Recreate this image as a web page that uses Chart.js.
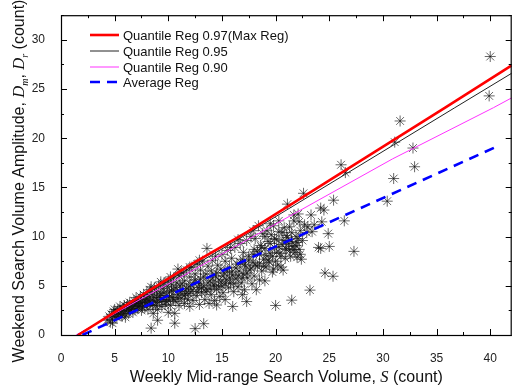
<!DOCTYPE html>
<html>
<head>
<meta charset="utf-8">
<script src="https://cdn.jsdelivr.net/npm/chart.js@4/dist/chart.umd.min.js"></script>
<style>
  html, body { margin: 0; padding: 0; background: #fff; }
</style>
</head>
<body>
<canvas id="scatter" width="518" height="389"></canvas>
<script>
// axis ticks
const xTicks = [0, 5, 10, 15, 20, 25, 30, 35, 40];
const yTicks = [0, 5, 10, 15, 20, 25, 30];

// regression lines (S, D)
const maxRegS = [1.6, 12, 17.4, 35.8, 42];
const maxRegD = [0, 7.1, 10.5, 23.1, 27.4];
const q95S = [1.5, 17.4, 36.7, 42];
const q95D = [0, 10.3, 23.1, 26.6];
const q90S = [1.4, 12, 17.4, 30.9, 40.3, 42];
const q90D = [0, 6.4, 9.7, 17.9, 23.1, 24.1];
const avgS = [2.0, 18, 40.7];
const avgD = [0, 8.0, 19.2];

const lineLabels = ['Quantile Reg 0.97(Max Reg)', 'Quantile Reg 0.95', 'Quantile Reg 0.90', 'Average Reg'];

// observed points [S, D]
const searchPoints = [
  [4.3,1.5],[4.5,1.9],[4.6,1.3],[4.7,2.1],[4.8,1.6],[4.8,1.2],[4.9,2.4],[5.0,1.9],[5.0,2.6],
  [5.1,2.2],[5.2,1.8],[5.3,2.6],[5.4,2.1],[5.5,2.9],[5.6,2.4],[5.7,1.9],[5.8,2.7],[5.9,3.0],[5.9,2.2],[6.0,1.8],
  [6.1,2.5],[6.2,3.1],[6.3,2.8],[6.3,2.2],[6.4,3.3],[6.5,2.6],[6.6,3.0],[6.7,2.3],[6.8,3.5],[6.8,2.9],[6.9,2.6],[7.0,3.2],[7.0,3.8],
  [7.1,2.7],[7.2,3.4],[7.3,3.0],[7.4,3.9],[7.5,2.5],[7.5,3.6],[7.6,3.2],[7.7,4.1],[7.8,2.9],[7.9,3.7],[8.0,4.3],[8.0,3.3],
  [8.1,2.6],[8.2,3.9],[8.3,4.6],[8.3,3.1],[8.4,0.7],[8.5,4.1],[8.6,3.5],[8.6,2.2],[8.7,4.8],[8.8,3.0],[8.9,4.4],[9.0,3.8],[9.0,1.5],[9.0,2.6],
  [9.1,5.0],[9.2,3.4],[9.3,4.2],[9.4,2.9],[9.5,4.7],[9.5,3.6],[9.6,5.3],[9.7,3.1],[9.8,4.0],[9.9,4.9],[10.0,3.5],[10.0,5.5],[10.0,2.3],
  [10.1,4.4],[10.2,3.0],[10.3,5.1],[10.4,3.8],[10.5,5.8],[10.5,4.6],[10.6,1.2],[10.6,2.2],[10.7,3.4],[10.8,5.3],[10.9,6.7],[10.9,4.1],[11.0,6.0],[11.0,3.0],
  [11.1,5.0],[11.2,3.7],[11.3,4.5],[11.4,6.3],[11.5,3.2],[11.5,5.5],[11.6,4.2],[11.7,6.6],[11.8,3.6],[11.9,4.9],[12.0,5.9],[12.0,2.9],
  [12.1,4.4],[12.2,6.9],[12.3,3.5],[12.4,5.3],[12.5,0.65],[12.5,6.2],[12.6,4.0],[12.7,7.2],[12.8,4.8],[12.9,3.1],[13.0,5.7],[13.0,6.6],
  [13.1,4.3],[13.2,7.5],[13.3,1.15],[13.3,5.0],[13.4,3.6],[13.5,6.2],[13.6,8.8],[13.6,4.6],[13.7,7.0],[13.8,3.2],[13.9,5.5],[14.0,6.5],[14.0,4.1],
  [14.1,7.6],[14.2,5.1],[14.3,3.5],[14.4,6.0],[14.5,3.05],[14.5,4.6],[14.6,7.1],[14.7,5.6],[14.8,3.9],[14.9,6.7],[15.0,5.0],[15.0,8.2],
  [15.1,4.3],[15.2,6.3],[15.3,7.5],[15.3,3.6],[15.4,5.6],[15.5,8.6],[15.6,4.8],[15.7,6.9],[15.8,5.3],[15.9,7.8],[16.0,2.9],[16.0,6.1],
  [16.1,4.4],[16.2,8.9],[16.3,5.7],[16.4,7.2],[16.5,4.9],[16.6,6.5],[16.7,9.3],[16.8,5.3],[16.9,7.7],[16.9,4.1],[17.0,6.2],[17.0,8.4],
  [17.1,4.6],[17.2,7.0],[17.3,3.4],[17.3,9.6],[17.4,5.8],[17.5,8.0],[17.6,6.6],[17.7,10.0],[17.8,5.2],[17.9,7.4],[18.0,8.7],[18.0,6.0],
  [18.1,9.8],[18.2,4.6],[18.3,7.0],[18.4,11.1],[18.5,8.2],[18.5,5.6],[18.6,9.1],[18.7,6.5],[18.8,10.3],[18.9,7.7],[19.0,5.5],[19.0,8.8],
  [19.1,6.9],[19.2,10.6],[19.3,9.5],[19.4,7.4],[19.5,8.3],[19.6,10.2],[19.7,6.4],[19.8,11.1],[19.8,6.7],[19.9,8.9],[20.0,7.5],[20.0,3.0],
  [20.1,9.7],[20.2,7.1],[20.3,10.5],[20.4,8.3],[20.5,6.9],[20.6,9.2],[20.7,6.6],[20.8,10.9],[20.9,7.8],[21.0,8.7],[21.0,10.1],
  [21.1,13.3],[21.2,9.3],[21.3,11.0],[21.4,8.0],[21.5,3.54],[21.5,10.4],[21.6,9.0],[21.7,11.6],[21.8,8.4],[21.9,10.0],[22.0,7.9],[22.0,9.4],
  [22.1,12.3],[22.2,8.7],[22.3,10.6],[22.4,7.7],[22.6,14.4],[22.7,11.2],[22.9,10.4],[23.0,11.0],
  [23.2,4.56],[23.3,12.2],[23.4,10.5],[23.6,11.2],[24.0,8.9],[24.2,12.9],[24.5,12.7],[24.3,11.5],[24.2,8.8],[24.6,6.3],
  [24.9,10.3],[25.0,9.0],[25.35,5.97],[25.4,13.7],[26.1,17.3],[26.5,16.5],[26.4,11.6],[27.3,8.5],
  [30.4,13.6],[31.0,15.9],[31.1,19.6],[31.6,21.75],[32.8,19.0],[32.95,17.1],[39.9,24.3],[40.0,28.3],
  // denser core
  [5.3,2.3],[5.6,2.0],[5.8,2.5],[6.1,2.9],[6.4,2.4],[6.6,2.7],[6.9,3.1],[7.2,2.9],[7.4,3.3],[7.6,2.8],[7.8,3.5],
  [8.1,3.6],[8.3,3.4],[8.5,3.0],[8.7,3.8],[8.9,3.3],[9.2,4.0],[9.4,3.6],[9.6,4.3],[9.8,3.4],[10.1,3.9],[10.3,4.5],
  [10.5,3.6],[10.7,4.8],[10.9,3.8],[11.1,4.4],[11.3,5.2],[11.5,4.0],[11.7,4.7],[11.9,4.2],[12.1,5.1],[12.3,4.6],
  [12.5,5.6],[12.7,4.4],[12.9,5.2],[13.1,4.8],[13.3,5.9],[13.5,4.4],[13.7,5.3],[13.9,4.7],[14.1,5.8],[14.3,5.0],
  [14.5,6.3],[14.7,4.9],[14.9,5.4],[15.1,6.0],[15.3,5.2],[15.5,6.5],[15.7,5.8],[15.9,6.4],[16.1,5.2],[16.3,6.8],
  [16.5,6.0],[16.7,7.4],[16.9,5.8],[17.1,7.2],[17.3,6.3],[17.5,7.6],[17.7,6.8],[17.9,8.2],[18.1,7.1],[18.3,8.5],
  [18.5,7.3],[18.7,8.9],[18.9,7.0],[19.1,8.1],[19.3,7.6],[19.5,9.3],[19.7,8.0],[19.9,9.8],[20.1,8.4],[20.3,9.0],
  [20.5,8.0],[20.7,9.6],[20.9,8.8],[21.1,9.9],[21.3,8.6],[21.5,9.5],[21.7,8.7],[21.9,9.1],[22.1,9.8],[22.3,8.2],[22.5,9.6],
  [8.4,4.9],[9.3,5.4],[10.2,5.9],[11.2,6.4],[12.0,6.9],[12.9,7.6],[14.4,8.0],[15.8,8.9],[16.5,9.7],[17.9,10.6],
  [19.5,11.3],[20.3,11.6],[21.7,12.2],[19.0,10.0],[20.6,10.4],[22.2,11.5]
];

const FONT = '"Liberation Sans", Arial, sans-serif';
const SERIF = '"Liberation Serif", "Times New Roman", serif';

function pairs(xs, ys) {
  return xs.map((v, i) => ({ x: v, y: ys[i] }));
}

// inward ticks on all four sides + frame
const framePlugin = {
  id: 'frame',
  afterDatasetsDraw(chart) {
    const { ctx, chartArea: a, scales } = chart;
    ctx.save();
    ctx.strokeStyle = '#000';
    ctx.lineWidth = 1;
    ctx.beginPath();
    const xs = scales.x, ys = scales.y;
    for (let v = 0; v <= 42; v += 2.5) {
      const len = v % 5 === 0 ? 6 : 3;
      const px = Math.round(xs.getPixelForValue(v)) + 0.5;
      ctx.moveTo(px, a.bottom); ctx.lineTo(px, a.bottom - len);
      ctx.moveTo(px, a.top); ctx.lineTo(px, a.top + len);
    }
    for (let v = 0; v <= 32.5; v += 2.5) {
      const len = v % 5 === 0 ? 6 : 3;
      const py = Math.round(ys.getPixelForValue(v)) + 0.5;
      ctx.moveTo(a.left, py); ctx.lineTo(a.left + len, py);
      ctx.moveTo(a.right, py); ctx.lineTo(a.right - len, py);
    }
    ctx.stroke();
    ctx.lineWidth = 1.2;
    ctx.strokeRect(a.left + 0.5, a.top + 0.5, a.right - a.left - 1, a.bottom - a.top);
    ctx.restore();
  }
};

// legend inside the plot, top left
const legendPlugin = {
  id: 'innerLegend',
  afterDraw(chart) {
    const { ctx } = chart;
    const rows = [35, 51, 67, 82];
    ctx.save();
    ctx.font = '13px ' + FONT;
    ctx.textBaseline = 'middle';
    ctx.fillStyle = '#111';
    chart.data.datasets.slice(0, 4).forEach((ds, i) => {
      ctx.beginPath();
      ctx.strokeStyle = ds.borderColor;
      ctx.lineWidth = ds.borderWidth;
      ctx.setLineDash(ds.borderDash || []);
      ctx.moveTo(90, rows[i]);
      ctx.lineTo(119, rows[i]);
      ctx.stroke();
      ctx.setLineDash([]);
      ctx.fillText(ds.label, 123, rows[i] + 1);
    });
    ctx.restore();
  }
};

// axis titles with italic symbols and subscripts
function drawRich(ctx, parts, cx, cy) {
  let w = 0;
  parts.forEach(p => { ctx.font = p.font; w += ctx.measureText(p.t).width; });
  let x = cx - w / 2;
  parts.forEach(p => {
    ctx.font = p.font;
    ctx.fillText(p.t, x, cy + (p.dy || 0));
    x += ctx.measureText(p.t).width;
  });
}

const titlePlugin = {
  id: 'axisTitles',
  afterDraw(chart) {
    const { ctx, chartArea: a } = chart;
    const f = '16px ' + FONT;
    const it = 'italic 16.5px ' + SERIF;
    const sub = 'italic 10px ' + SERIF;
    ctx.save();
    ctx.fillStyle = '#111';
    ctx.textBaseline = 'alphabetic';
    drawRich(ctx, [
      { t: 'Weekly Mid-range Search Volume, ', font: f },
      { t: 'S', font: it },
      { t: ' (count)', font: f }
    ], (a.left + a.right) / 2, 382);
    ctx.translate(24, 181);
    ctx.rotate(-Math.PI / 2);
    drawRich(ctx, [
      { t: 'Weekend Search Volume Amplitude, ', font: f },
      { t: 'D', font: it },
      { t: 'm', font: sub, dy: 4 },
      { t: ', ', font: f },
      { t: 'D', font: it },
      { t: 'r', font: sub, dy: 4 },
      { t: ' (count)', font: f }
    ], 0, 0);
    ctx.restore();
  }
};

new Chart(document.getElementById('scatter').getContext('2d'), {
  type: 'scatter',
  data: {
    datasets: [
      {
        label: lineLabels[0], data: pairs(maxRegS, maxRegD), showLine: true,
        borderColor: '#ff0000', borderWidth: 2.6, pointRadius: 0, order: 1
      },
      {
        label: lineLabels[1], data: pairs(q95S, q95D), showLine: true,
        borderColor: '#222222', borderWidth: 1, pointRadius: 0, order: 2
      },
      {
        label: lineLabels[2], data: pairs(q90S, q90D), showLine: true,
        borderColor: '#ff33ff', borderWidth: 1, pointRadius: 0, order: 3
      },
      {
        label: lineLabels[3], data: pairs(avgS, avgD), showLine: true,
        borderColor: '#0000ff', borderWidth: 2.6, borderDash: [10, 7], pointRadius: 0, order: 0
      },
      {
        label: 'Observed', data: searchPoints.map(p => ({ x: p[0], y: p[1] })),
        pointStyle: 'star', pointRadius: 5.5, borderWidth: 0.8,
        borderColor: 'rgba(15,15,15,0.8)', backgroundColor: 'rgba(15,15,15,0.8)', order: 10
      }
    ]
  },
  options: {
    responsive: false,
    animation: false,
    devicePixelRatio: 1,
    layout: { padding: { top: 4, right: 0, left: 0, bottom: 0 } },
    plugins: { legend: { display: false }, tooltip: { enabled: false } },
    scales: {
      x: {
        type: 'linear', min: 0, max: 42,
        afterBuildTicks: s => { s.ticks = xTicks.map(v => ({ value: v })); },
        afterFit: s => { s.height = 54; },
        grid: { display: false }, border: { display: false },
        ticks: { padding: 8, color: '#222', font: { family: FONT, size: 12 }, maxRotation: 0 }
      },
      y: {
        type: 'linear', min: 0, max: 32.5,
        afterBuildTicks: s => { s.ticks = yTicks.map(v => ({ value: v })); },
        afterFit: s => { s.width = 61; },
        grid: { display: false }, border: { display: false },
        ticks: { padding: 8, color: '#222', font: { family: FONT, size: 12 } }
      }
    }
  },
  plugins: [framePlugin, legendPlugin, titlePlugin]
});
</script>
</body>
</html>
